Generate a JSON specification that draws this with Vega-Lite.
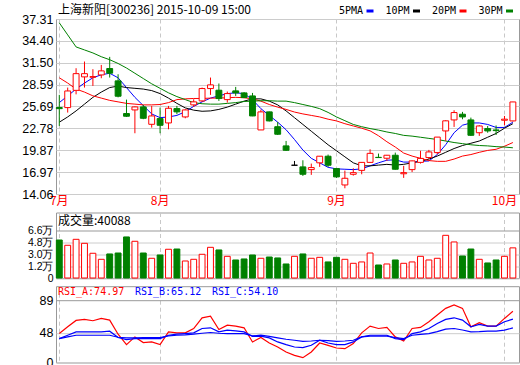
{
"$schema": "https://vega.github.io/schema/vega-lite/v6.json",
"background": "white",
"padding": {"left": 21, "top": 3, "right": 2, "bottom": 1},
"config": {
  "view": {"stroke": "#999999", "strokeWidth": 1},
  "axis": {"labelFont": "Liberation Sans", "labelFontSize": 12, "labelColor": "#000000", "domain": false, "ticks": false, "labelPadding": 3, "gridColor": "#cccccc", "gridWidth": 1, "labelOverlap": false, "labelFlush": false}
},
"datasets": {"k": [
{"d":"2015-07-16","o":25.55,"h":27.23,"l":23.10,"c":25.40,"v":51700,"m5":26.2,"m10":23.6,"m20":29.5,"m30":36.8,"ra":47.1,"rb":40.8,"rc":40.8},
{"d":"2015-07-17","o":25.54,"h":28.2,"l":24.88,"c":27.75,"v":43900,"m5":27.1,"m10":24.3,"m20":28.8,"m30":35.2,"ra":55.5,"rb":45.0,"rc":43.0},
{"d":"2015-07-20","o":27.83,"h":30.77,"l":27.3,"c":30.05,"v":52700,"m5":28.0,"m10":25.1,"m20":28.0,"m30":33.6,"ra":63.5,"rb":49.2,"rc":45.0},
{"d":"2015-07-21","o":29.62,"h":31.66,"l":28.2,"c":30.05,"v":46800,"m5":28.8,"m10":26.0,"m20":27.6,"m30":33.2,"ra":64.8,"rb":49.2,"rc":45.0},
{"d":"2015-07-22","o":29.57,"h":30.64,"l":28.42,"c":29.66,"v":32100,"m5":29.5,"m10":26.9,"m20":27.1,"m30":32.8,"ra":63.1,"rb":49.2,"rc":45.0},
{"d":"2015-07-23","o":29.88,"h":31.21,"l":29.44,"c":30.42,"v":23200,"m5":29.9,"m10":27.6,"m20":26.8,"m30":32.3,"ra":66.0,"rb":49.2,"rc":45.0},
{"d":"2015-07-24","o":30.73,"h":32.28,"l":29.53,"c":30.11,"v":31100,"m5":30.1,"m10":28.2,"m20":26.5,"m30":31.9,"ra":63.9,"rb":50.1,"rc":45.0},
{"d":"2015-07-27","o":29.09,"h":29.97,"l":26.9,"c":27.05,"v":32500,"m5":29.5,"m10":28.4,"m20":26.3,"m30":31.4,"ra":46.3,"rb":42.1,"rc":42.5},
{"d":"2015-07-28","o":24.75,"h":26.6,"l":24.3,"c":24.39,"v":56200,"m5":28.2,"m10":28.2,"m20":26.1,"m30":30.8,"ra":33.3,"rb":39.5,"rc":41.7},
{"d":"2015-07-29","o":25.23,"h":25.7,"l":22.13,"c":25.63,"v":49800,"m5":26.9,"m10":28.1,"m20":26.0,"m30":30.1,"ra":42.9,"rb":40.8,"rc":41.7},
{"d":"2015-07-30","o":25.63,"h":25.9,"l":24.0,"c":24.12,"v":32500,"m5":25.8,"m10":28.0,"m20":25.9,"m30":29.4,"ra":35.8,"rb":40.8,"rc":41.9},
{"d":"2015-07-31","o":23.32,"h":25.76,"l":22.88,"c":24.43,"v":24700,"m5":24.7,"m10":27.8,"m20":25.9,"m30":28.7,"ra":36.6,"rb":40.8,"rc":42.0},
{"d":"2015-08-03","o":24.08,"h":25.54,"l":22.13,"c":23.19,"v":29600,"m5":24.2,"m10":27.4,"m20":25.95,"m30":28.1,"ra":33.3,"rb":40.8,"rc":42.1},
{"d":"2015-08-04","o":23.5,"h":25.76,"l":22.66,"c":25.45,"v":38000,"m5":24.3,"m10":26.8,"m20":26.2,"m30":27.5,"ra":49.2,"rb":45.0,"rc":44.2},
{"d":"2015-08-05","o":25.41,"h":25.76,"l":24.66,"c":24.97,"v":38400,"m5":24.5,"m10":26.1,"m20":26.6,"m30":27.0,"ra":48.0,"rb":46.3,"rc":45.0},
{"d":"2015-08-06","o":24.3,"h":25.32,"l":24.12,"c":25.23,"v":20700,"m5":25.0,"m10":25.5,"m20":26.7,"m30":26.6,"ra":48.0,"rb":47.1,"rc":45.5},
{"d":"2015-08-07","o":25.9,"h":26.65,"l":25.63,"c":26.3,"v":23200,"m5":25.7,"m10":25.2,"m20":26.75,"m30":26.2,"ra":53.4,"rb":48.0,"rc":46.3},
{"d":"2015-08-10","o":26.43,"h":28.2,"l":26.3,"c":28.07,"v":30600,"m5":26.3,"m10":25.05,"m20":26.75,"m30":26.05,"ra":66.8,"rb":53.4,"rc":47.5},
{"d":"2015-08-11","o":28.07,"h":29.53,"l":27.23,"c":28.56,"v":40900,"m5":26.8,"m10":25.1,"m20":26.8,"m30":26.0,"ra":68.9,"rb":54.3,"rc":48.4},
{"d":"2015-08-12","o":27.85,"h":28.74,"l":26.43,"c":26.74,"v":37000,"m5":27.1,"m10":25.3,"m20":26.8,"m30":26.0,"ra":52.2,"rb":49.2,"rc":47.5},
{"d":"2015-08-13","o":26.6,"h":27.67,"l":26.2,"c":27.4,"v":27600,"m5":27.4,"m10":25.6,"m20":26.85,"m30":26.1,"ra":57.6,"rb":51.3,"rc":47.1},
{"d":"2015-08-14","o":27.76,"h":28.29,"l":27.09,"c":27.49,"v":22200,"m5":27.5,"m10":26.0,"m20":26.9,"m30":26.2,"ra":56.4,"rb":50.5,"rc":47.1},
{"d":"2015-08-17","o":27.49,"h":27.6,"l":26.8,"c":26.87,"v":23700,"m5":27.4,"m10":26.4,"m20":26.85,"m30":26.35,"ra":54.3,"rb":49.2,"rc":47.1},
{"d":"2015-08-18","o":27.09,"h":27.49,"l":24.4,"c":24.43,"v":29600,"m5":26.6,"m10":26.7,"m20":26.7,"m30":26.4,"ra":36.6,"rb":43.5,"rc":44.2},
{"d":"2015-08-19","o":22.57,"h":25.27,"l":22.57,"c":24.97,"v":24700,"m5":25.4,"m10":26.7,"m20":26.4,"m30":26.45,"ra":42.1,"rb":43.8,"rc":45.0},
{"d":"2015-08-20","o":24.97,"h":25.0,"l":23.7,"c":23.77,"v":26600,"m5":24.5,"m10":26.4,"m20":25.95,"m30":26.45,"ra":35.3,"rb":41.7,"rc":43.5},
{"d":"2015-08-21","o":23.0,"h":23.62,"l":21.9,"c":22.0,"v":25200,"m5":23.6,"m10":25.9,"m20":25.6,"m30":26.4,"ra":30.3,"rb":36.6,"rc":41.7},
{"d":"2015-08-24","o":20.45,"h":21.11,"l":19.78,"c":19.87,"v":16300,"m5":22.6,"m10":25.1,"m20":25.3,"m30":26.4,"ra":24.0,"rb":33.2,"rc":40.0},
{"d":"2015-08-25","o":17.88,"h":18.45,"l":17.88,"c":17.88,"v":27600,"m5":21.3,"m10":24.2,"m20":24.95,"m30":26.2,"ra":19.8,"rb":30.3,"rc":38.7},
{"d":"2015-08-26","o":17.66,"h":18.54,"l":16.46,"c":16.68,"v":31100,"m5":19.9,"m10":23.3,"m20":24.7,"m30":25.95,"ra":16.9,"rb":29.5,"rc":37.4},
{"d":"2015-08-27","o":17.3,"h":18.1,"l":16.6,"c":17.57,"v":24700,"m5":18.8,"m10":22.4,"m20":24.5,"m30":25.7,"ra":24.0,"rb":32.4,"rc":37.8},
{"d":"2015-08-28","o":18.2,"h":19.1,"l":17.66,"c":19.08,"v":26100,"m5":18.2,"m10":21.5,"m20":24.3,"m30":25.4,"ra":35.3,"rb":38.7,"rc":38.7},
{"d":"2015-08-31","o":19.08,"h":19.3,"l":17.66,"c":17.88,"v":19300,"m5":17.6,"m10":20.6,"m20":24.0,"m30":24.9,"ra":32.4,"rb":35.3,"rc":38.2},
{"d":"2015-09-01","o":17.44,"h":17.5,"l":16.2,"c":16.33,"v":26100,"m5":17.4,"m10":19.8,"m20":23.77,"m30":24.3,"ra":29.0,"rb":33.2,"rc":37.4},
{"d":"2015-09-02","o":15.26,"h":17.17,"l":14.82,"c":16.15,"v":23200,"m5":17.35,"m10":19.0,"m20":23.4,"m30":23.8,"ra":28.2,"rb":33.2,"rc":37.8},
{"d":"2015-09-07","o":16.68,"h":17.48,"l":16.5,"c":16.9,"v":17300,"m5":17.3,"m10":18.2,"m20":23.1,"m30":23.3,"ra":34.5,"rb":36.6,"rc":38.7},
{"d":"2015-09-08","o":17.2,"h":18.3,"l":16.68,"c":18.26,"v":19300,"m5":17.4,"m10":17.8,"m20":22.8,"m30":23.0,"ra":48.0,"rb":42.9,"rc":42.9},
{"d":"2015-09-09","o":18.26,"h":20.0,"l":18.2,"c":19.46,"v":32500,"m5":17.8,"m10":17.8,"m20":22.45,"m30":22.75,"ra":56.4,"rb":45.0,"rc":43.8},
{"d":"2015-09-10","o":18.93,"h":19.43,"l":18.88,"c":18.9,"v":14800,"m5":18.2,"m10":17.9,"m20":21.8,"m30":22.55,"ra":53.4,"rb":45.0,"rc":43.8},
{"d":"2015-09-11","o":18.81,"h":19.25,"l":18.45,"c":19.21,"v":16300,"m5":18.55,"m10":18.0,"m20":21.0,"m30":22.3,"ra":54.7,"rb":45.0,"rc":43.8},
{"d":"2015-09-14","o":19.21,"h":19.56,"l":17.3,"c":17.35,"v":22200,"m5":18.6,"m10":17.9,"m20":20.3,"m30":22.1,"ra":42.9,"rb":40.8,"rc":42.0},
{"d":"2015-09-15","o":16.75,"h":17.8,"l":16.2,"c":16.9,"v":17300,"m5":18.3,"m10":18.0,"m20":19.5,"m30":21.85,"ra":37.8,"rb":39.5,"rc":40.8},
{"d":"2015-09-16","o":17.3,"h":18.5,"l":16.97,"c":18.46,"v":19300,"m5":18.3,"m10":18.2,"m20":19.1,"m30":21.75,"ra":53.4,"rb":47.1,"rc":45.0},
{"d":"2015-09-17","o":18.26,"h":19.8,"l":18.1,"c":18.79,"v":27600,"m5":18.4,"m10":18.4,"m20":18.8,"m30":21.6,"ra":54.7,"rb":49.2,"rc":46.0},
{"d":"2015-09-18","o":18.9,"h":19.92,"l":18.68,"c":19.65,"v":22200,"m5":18.45,"m10":18.7,"m20":18.5,"m30":21.45,"ra":61.8,"rb":53.4,"rc":47.1},
{"d":"2015-09-21","o":19.56,"h":21.62,"l":19.34,"c":21.62,"v":24700,"m5":19.3,"m10":19.1,"m20":18.4,"m30":21.3,"ra":70.3,"rb":59.7,"rc":49.5},
{"d":"2015-09-22","o":22.44,"h":23.86,"l":21.11,"c":23.78,"v":58600,"m5":20.6,"m10":19.6,"m20":18.4,"m30":21.1,"ra":78.6,"rb":64.8,"rc":52.6},
{"d":"2015-09-23","o":23.9,"h":25.19,"l":22.97,"c":24.88,"v":48800,"m5":22.2,"m10":20.1,"m20":18.7,"m30":20.9,"ra":82.8,"rb":66.8,"rc":53.4},
{"d":"2015-09-24","o":24.66,"h":24.97,"l":23.99,"c":24.3,"v":28100,"m5":23.2,"m10":20.5,"m20":19.1,"m30":20.75,"ra":78.6,"rb":63.9,"rc":51.5},
{"d":"2015-09-25","o":23.9,"h":24.21,"l":21.78,"c":21.86,"v":38400,"m5":23.5,"m10":20.8,"m20":19.3,"m30":20.6,"ra":55.5,"rb":55.5,"rc":49.2},
{"d":"2015-09-28","o":22.2,"h":23.2,"l":21.78,"c":23.1,"v":23200,"m5":23.5,"m10":21.1,"m20":19.6,"m30":20.5,"ra":60.6,"rb":58.5,"rc":49.5},
{"d":"2015-09-29","o":22.75,"h":23.1,"l":22.2,"c":22.44,"v":17800,"m5":23.3,"m10":21.6,"m20":19.85,"m30":20.45,"ra":56.4,"rb":56.4,"rc":50.1},
{"d":"2015-09-30","o":22.57,"h":23.17,"l":21.9,"c":22.48,"v":22200,"m5":22.9,"m10":22.1,"m20":20.0,"m30":20.35,"ra":56.4,"rb":56.4,"rc":50.1},
{"d":"2015-10-08","o":23.86,"h":24.43,"l":23.2,"c":24.0,"v":27600,"m5":22.9,"m10":22.8,"m20":20.4,"m30":20.3,"ra":66.0,"rb":61.8,"rc":51.3},
{"d":"2015-10-09","o":23.77,"h":26.3,"l":23.7,"c":26.29,"v":40088,"m5":23.6,"m10":23.4,"m20":20.9,"m30":20.2,"ra":74.97,"rb":65.12,"rc":54.10}
]},
"spacing": 18.5,
"bounds": "flush",
"resolve": {"scale": {"color": "independent"}, "legend": {"color": "independent"}},
"vconcat": [
{
  "width": 463, "height": 175,
  "data": {"name": "k"},
  "title": {"text": "上海新阳[300236] 2015-10-09 15:00", "anchor": "start", "frame": "group", "font": "Noto Sans CJK SC", "fontSize": 12, "fontWeight": "normal", "color": "#000000", "offset": -11, "dx": 2},
  "encoding": {
    "x": {"field": "d", "type": "ordinal", "sort": null,
      "scale": {"type": "band", "paddingInner": 0.3, "paddingOuter": 0.21, "align": 0.1},
      "axis": {"title": null, "values": ["2015-07-16", "2015-08-03", "2015-09-01", "2015-10-08"], "labelExpr": "toNumber(substring(datum.value,5,7)) + '月'", "labelColor": "#ff0000", "labelFont": "Noto Sans CJK SC", "labelFontSize": 12, "labelAngle": 0, "labelPadding": 1, "grid": true, "gridDash": [4, 3], "gridColor": "#c8c8c8", "bandPosition": 0.5}}
  },
  "layer": [
    {"transform": [{"fold": ["m5", "m10", "m20", "m30"], "as": ["key", "val"]}],
     "mark": {"type": "line", "strokeWidth": 1},
     "encoding": {
       "y": {"field": "val", "type": "quantitative", "scale": {"domain": [14.06, 37.31], "nice": false, "zero": false},
         "axis": {"title": null, "values": [14.06, 16.97, 19.87, 22.78, 25.69, 28.59, 31.5, 34.4, 37.31], "format": ".2f", "labelFontSize": 12.5, "labelOverlap": false, "grid": true}},
       "color": {"field": "key", "type": "nominal", "sort": null,
         "scale": {"domain": ["m5", "m10", "m20", "m30"], "range": ["#0000ff", "#000000", "#ff0000", "#008000"]},
         "legend": {"orient": "none", "legendX": 309, "legendY": -13, "direction": "horizontal", "title": null, "padding": 0,
           "symbolType": "stroke", "symbolStrokeWidth": 3, "symbolSize": 49,
           "labelFont": "DejaVu Sans Mono", "labelFontSize": 10, "labelColor": "#000000",
           "labelAlign": "right", "labelOffset": -12, "columnPadding": 4.5,
           "labelExpr": "datum.value == 'm5' ? '5PMA' : datum.value == 'm10' ? '10PM' : datum.value == 'm20' ? '20PM' : '30PM'"}}
     }},
    {"mark": {"type": "rule", "strokeWidth": 1},
     "encoding": {
       "y": {"field": "l", "type": "quantitative",
         "axis": {"title": null, "values": [14.06, 16.97, 19.87, 22.78, 25.69, 28.59, 31.5, 34.4, 37.31], "format": ".2f", "labelFontSize": 12.5, "labelOverlap": false, "grid": true}},
       "y2": {"field": "h"},
       "color": {"condition": [{"test": "datum.c > datum.o", "value": "#ff0000"}, {"test": "datum.c < datum.o", "value": "#008000"}], "value": "#000000"}
     }},
    {"mark": {"type": "bar", "strokeWidth": 1},
     "encoding": {
       "y": {"field": "o", "type": "quantitative",
         "axis": {"title": null, "values": [14.06, 16.97, 19.87, 22.78, 25.69, 28.59, 31.5, 34.4, 37.31], "format": ".2f", "labelFontSize": 12.5, "labelOverlap": false, "grid": true}},
       "y2": {"field": "c"},
       "fill": {"condition": {"test": "datum.c < datum.o", "value": "#008000"}, "value": "#ffffff"},
       "stroke": {"condition": [{"test": "datum.c > datum.o", "value": "#ff0000"}, {"test": "datum.c < datum.o", "value": "#008000"}], "value": "#000000"}
     }}
  ]
},
{
  "spacing": 7.7,
  "bounds": "flush",
  "resolve": {"scale": {"color": "independent"}, "legend": {"color": "independent"}},
  "vconcat": [
    {
      "width": 463, "height": 65.5,
      "data": {"name": "k"},
      "title": {"text": "成交量:40088", "anchor": "start", "frame": "group", "font": "Noto Sans CJK SC", "fontSize": 12, "fontWeight": "normal", "color": "#000000", "offset": -15, "dx": 2},
      "mark": {"type": "bar", "strokeWidth": 1},
      "encoding": {
        "x": {"field": "d", "type": "ordinal", "sort": null,
          "scale": {"type": "band", "paddingInner": 0.3, "paddingOuter": 0.21, "align": 0.1},
          "axis": {"title": null, "values": ["2015-07-16", "2015-08-03", "2015-09-01", "2015-10-08"], "labels": false, "grid": true, "gridDash": [4, 3], "gridColor": "#c8c8c8", "bandPosition": 0.5}},
        "y": {"field": "v", "type": "quantitative", "scale": {"domain": [-4400, 92300], "nice": false, "zero": false},
          "axis": {"title": null, "values": [-4400, 12000, 30000, 48000, 66000], "labelExpr": "datum.value < 0 ? '0' : format(datum.value / 10000, '.1f') + '万'", "labelFont": "Liberation Sans", "labelFontSize": 10.5, "grid": true,
            "gridColor": {"condition": {"test": "datum.value == 66000", "value": "#999999"}, "value": "#cccccc"}}},
        "y2": {"datum": -4400},
        "fill": {"condition": {"test": "datum.c < datum.o", "value": "#008000"}, "value": "#ffffff"},
        "stroke": {"condition": {"test": "datum.c < datum.o", "value": "#008000"}, "value": "#ff0000"}
      }
    },
    {
      "width": 463, "height": 76.3,
      "data": {"name": "k"},
      "transform": [{"fold": ["ra", "rb", "rc"], "as": ["key", "val"]}],
      "mark": {"type": "line", "strokeWidth": 1.2},
      "encoding": {
        "x": {"field": "d", "type": "ordinal", "sort": null,
          "scale": {"type": "band", "paddingInner": 0.3, "paddingOuter": 0.21, "align": 0.1},
          "axis": {"title": null, "values": ["2015-07-16", "2015-08-03", "2015-09-01", "2015-10-08"], "labels": false, "grid": true, "gridDash": [4, 3], "gridColor": "#c8c8c8", "bandPosition": 0.5}},
        "y": {"field": "val", "type": "quantitative", "scale": {"domain": [10.9, 106.3], "nice": false, "zero": false},
          "axis": {"title": null, "values": [10.9, 48, 89], "labelExpr": "datum.value < 20 ? '0' : datum.label", "labelFontSize": 12.5, "grid": true,
            "gridColor": {"condition": {"test": "datum.value == 89", "value": "#999999"}, "value": "#cccccc"}}},
        "color": {"field": "key", "type": "nominal", "sort": null,
          "scale": {"domain": ["ra", "rb", "rc"], "range": ["#ff0000", "#0000ff", "#0000ff"]},
          "legend": {"orient": "none", "legendX": -8, "legendY": 1, "direction": "horizontal", "title": null, "padding": 0,
            "symbolSize": 0, "symbolOpacity": 0, "symbolStrokeWidth": 0, "labelOffset": 0, "columnPadding": -5,
            "labelFont": "DejaVu Sans Mono", "labelFontSize": 10,
            "labelExpr": "datum.value == 'ra' ? 'RSI_A:74.97' : datum.value == 'rb' ? 'RSI_B:65.12' : 'RSI_C:54.10'",
            "encode": {"labels": {"update": {"fill": {"signal": "datum.value == 'ra' ? '#ff0000' : '#0000ff'"}}}}}}
      }
    }
  ]
}
]
}
